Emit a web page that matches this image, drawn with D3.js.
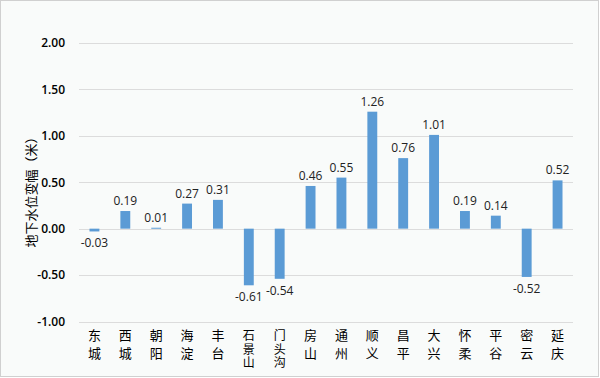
<!DOCTYPE html>
<html>
<head>
<meta charset="utf-8">
<script src="https://cdn.jsdelivr.net/npm/d3@7"></script>
<style>
  body { margin: 0; background: #fff; }
  #chart { width: 600px; height: 378px; }
</style>
</head>
<body>
<div id="chart"></div>
<script>
var districts = ["东城", "西城", "朝阳", "海淀", "丰台", "石景山", "门头沟", "房山",
                 "通州", "顺义", "昌平", "大兴", "怀柔", "平谷", "密云", "延庆"];
var changes = [-0.03, 0.19, 0.01, 0.27, 0.31, -0.61, -0.54, 0.46,
               0.55, 1.26, 0.76, 1.01, 0.19, 0.14, -0.52, 0.52];
var yTicks = [-1.0, -0.5, 0.0, 0.5, 1.0, 1.5, 2.0];

var w = 600;
var h = 378;
// plot area (window.top is reserved, so prefix the names)
var plotLeft = 79, plotRight = 573, plotTop = 43, plotBottom = 321.5;

// plain hyphen for negatives, like the original
var fmt = d3.formatLocale({decimal: ".", thousands: ",", grouping: [3], currency: ["", ""], minus: "-"}).format(".2f");

var svg = d3.select("#chart")
    .append("svg")
    .attr("width", w)
    .attr("height", h);

// background and border
svg.append("rect")
  .attr("x", 0.5).attr("y", 0.5)
  .attr("width", w - 2).attr("height", h - 2)
  .attr("fill", "#f9fbfa")
  .attr("stroke", "#d0d0d0");

var x = d3.scaleBand()
    .domain(districts)
    .range([plotLeft, plotRight])
    .paddingInner(0.68)
    .paddingOuter(0.34);

var y = d3.scaleLinear()
    .domain([-1, 2])
    .range([plotBottom, plotTop]);

// gridlines
svg.selectAll("line.grid")
  .data(yTicks)
  .enter()
  .append("line")
  .attr("class", "grid")
  .attr("x1", plotLeft).attr("x2", plotRight)
  .attr("y1", function(d) { return Math.round(y(d)) + 0.5; })
  .attr("y2", function(d) { return Math.round(y(d)) + 0.5; })
  .attr("stroke", "#dcdcdc")
  .attr("stroke-width", 1);

// y tick labels
var yAxis = d3.axisLeft(y)
    .tickValues(yTicks)
    .tickFormat(fmt)
    .tickSize(0)
    .tickPadding(14);

var gy = svg.append("g")
  .attr("transform", "translate(" + plotLeft + ",0)")
  .call(yAxis);
gy.select(".domain").remove();
gy.selectAll("text")
  .attr("font-family", "Open Sans, Liberation Sans, sans-serif")
  .attr("font-size", "12px")
  .attr("font-weight", "600")
  .attr("fill", "#000");

// y title
svg.append("text")
  .attr("transform", "translate(36,189) rotate(-90)")
  .attr("text-anchor", "middle")
  .attr("font-family", "Noto Sans CJK SC, sans-serif")
  .attr("font-size", "13px")
  .attr("fill", "#000")
  .text("地下水位变幅（米）");

// bars
svg.selectAll("rect.bar")
  .data(changes)
  .enter()
  .append("rect")
  .attr("class", "bar")
  .attr("x", function(d, i) { return x(districts[i]); })
  .attr("y", function(d) { return y(Math.max(0, d)); })
  .attr("width", x.bandwidth())
  .attr("height", function(d) { return Math.max(1, Math.abs(y(d) - y(0))); })
  .attr("fill", "#5b9bd5");

// value labels
svg.selectAll("text.val")
  .data(changes)
  .enter()
  .append("text")
  .attr("class", "val")
  .attr("text-anchor", "middle")
  .attr("x", function(d, i) { return x(districts[i]) + x.bandwidth() / 2; })
  .attr("y", function(d) { return d >= 0 ? y(d) - 6 : y(d) + 16; })
  .attr("font-family", "Open Sans, Liberation Sans, sans-serif")
  .attr("font-size", "12px")
  .attr("fill", "#222")
  .text(function(d) { return fmt(d); });

// category labels, one character per line (three-character names packed tighter)
var cat = svg.selectAll("text.cat")
  .data(districts)
  .enter()
  .append("text")
  .attr("class", "cat")
  .attr("text-anchor", "middle")
  .attr("font-family", "Noto Sans CJK SC, sans-serif")
  .attr("font-size", function(d) { return d.length > 2 ? "12px" : "13px"; })
  .attr("fill", "#000");

cat.each(function(d) {
  var t = d3.select(this);
  var cx = x(d) + x.bandwidth() / 2;
  var step = d.length > 2 ? 13.5 : 18;
  d.split("").forEach(function(ch, k) {
    t.append("tspan")
      .attr("x", cx)
      .attr("y", 340 + k * step)
      .text(ch);
  });
});
</script>
</body>
</html>
